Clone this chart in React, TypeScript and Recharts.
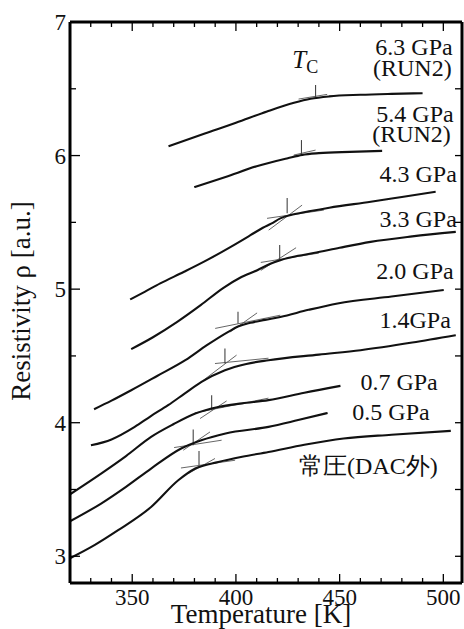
import React from "react";
import { LineChart, Line, XAxis, YAxis, ReferenceDot, Customized } from "recharts";

const FONT = "Liberation Serif, Times New Roman, serif";

// resistivity curves, [T (K), rho (a.u.)]
const run63 = [[367.5, 6.07], [385, 6.165], [400, 6.245], [415, 6.33], [428, 6.395], [436, 6.425], [445, 6.443], [460, 6.455], [475, 6.462], [490, 6.467]];
const run54 = [[379.9, 5.764], [395, 5.84], [410, 5.92], [425, 5.98], [432, 6.005], [440, 6.018], [455, 6.028], [470.5, 6.035]];
const p43 = [[349, 4.923], [356, 4.98], [363.5, 5.043], [375, 5.13], [386, 5.217], [397.3, 5.315], [407, 5.404], [413, 5.46], [417, 5.49], [421.4, 5.53], [428, 5.56], [436, 5.585], [445, 5.61], [465, 5.654], [480, 5.69], [496.3, 5.729]];
const p33 = [[349.5, 4.551], [360, 4.64], [371.7, 4.755], [383, 4.88], [394, 5.01], [402, 5.085], [410.3, 5.142], [416.6, 5.19], [421.4, 5.217], [430, 5.25], [437.4, 5.27], [450, 5.31], [464.9, 5.354], [485, 5.395], [506, 5.429]];
const p20 = [[331.6, 4.101], [340, 4.165], [349.5, 4.243], [362, 4.35], [375.6, 4.468], [386, 4.58], [396.3, 4.68], [401, 4.72], [407, 4.748], [414, 4.77], [421.4, 4.792], [435, 4.845], [449, 4.893], [475, 4.945], [500.2, 4.993]];
const p14 = [[330.1, 3.831], [340, 3.875], [351.2, 3.969], [359, 4.05], [367.3, 4.131], [375.4, 4.22], [383.4, 4.306], [394.7, 4.393], [405, 4.44], [415.7, 4.468], [440, 4.51], [460.1, 4.543], [485, 4.6], [506, 4.655]];
const p07 = [[320, 3.464], [335, 3.619], [347, 3.75], [359.1, 3.894], [370, 3.99], [380.4, 4.069], [391.5, 4.118], [403, 4.145], [415.7, 4.169], [433, 4.225], [450.4, 4.276]];
const p05 = [[320, 3.262], [335, 3.395], [347, 3.52], [359.1, 3.657], [373.6, 3.807], [383.3, 3.869], [395, 3.92], [415.7, 3.969], [430, 4.02], [444.2, 4.073]];
const p00 = [[320, 2.985], [332, 3.085], [343.2, 3.195], [359.1, 3.369], [372.2, 3.569], [380.4, 3.657], [391.5, 3.706], [403, 3.745], [415.7, 3.781], [433, 3.835], [451.9, 3.882], [475, 3.91], [503.6, 3.939]];

const curves = [run63, run54, p43, p33, p20, p14, p07, p05, p00];

// Tc markers: [T, rho bottom, rho top]
const tcTicks = [[438.4, 6.438, 6.528], [431.6, 6.011, 6.116], [424.7, 5.569, 5.682], [421.1, 5.217, 5.33], [401, 4.743, 4.83], [394.7, 4.443, 4.556], [388.3, 4.094, 4.206], [379.4, 3.831, 3.949], [382.2, 3.682, 3.789]];
// tangent segments: [T1, rho1, T2, rho2]
const tangents = [
  [430.2, 6.423, 444, 6.458],
  [427.9, 6.004, 438.4, 6.041],
  [415.8, 5.442, 431.9, 5.629], [415, 5.53, 442.4, 5.592],
  [412, 5.14, 429, 5.31], [412, 5.2, 440, 5.27],
  [397.3, 4.68, 410.2, 4.822], [390, 4.706, 421.4, 4.805],
  [384.3, 4.318, 400.3, 4.506], [389.9, 4.443, 415.7, 4.483],
  [382.7, 4.031, 395.5, 4.163], [380.2, 4.073, 415.7, 4.184],
  [374.6, 3.794, 387.5, 3.931], [370.2, 3.814, 393.1, 3.869],
  [377, 3.619, 389.9, 3.732], [373.5, 3.661, 399.6, 3.719],
];

const labelText = ["6.3 GPa", "(RUN2)", "5.4 GPa", "(RUN2)", "4.3 GPa", "3.3 GPa", "2.0 GPa", "1.4GPa", "0.7 GPa", "0.5 GPa", "常圧(DAC外)"];
const labelT = [504.5, 504.0, 505.0, 503.6, 506.5, 506.5, 505.0, 503.6, 497.3, 493.4, 497.3];
const labelR = [6.753, 6.592, 6.251, 6.101, 5.801, 5.464, 5.075, 4.708, 4.243, 4.019, 3.614];

const xTicks = [330, 340, 350, 360, 370, 380, 390, 400, 410, 420, 430, 440, 450, 460, 470, 480, 490, 500];
const yTicks = [3, 3.5, 4, 4.5, 5, 5.5, 6, 6.5, 7];
const rightTicks = [3, 3.5, 4, 4.5, 5, 5.5, 6, 6.5];

const toPts = (arr: number[][]) => arr.map(([t, r]) => ({ t, r }));

const BottomTick = ({ x, y, payload }: any) => {
  const major = payload.value % 50 === 0;
  return (
    <g>
      <line x1={x} y1={y} x2={x} y2={y - (major ? 9 : 5)} stroke="#000" strokeWidth={1.3} />
      {major && (
        <text x={x} y={y + 22} textAnchor="middle" fontSize={23} fontFamily={FONT} fill="#111">
          {payload.value}
        </text>
      )}
    </g>
  );
};

const TopTick = ({ x, y, payload }: any) => {
  const major = payload.value % 50 === 0;
  return <line x1={x} y1={y} x2={x} y2={y + (major ? 9 : 5)} stroke="#000" strokeWidth={1.3} />;
};

const LeftTick = ({ x, y, payload }: any) => {
  const major = Number.isInteger(payload.value);
  return (
    <g>
      <line x1={x} y1={y} x2={x + (major ? 10 : 6)} y2={y} stroke="#000" strokeWidth={1.3} />
      {major && (
        <text x={x - 4} y={y + 8} textAnchor="end" fontSize={23} fontFamily={FONT} fill="#111">
          {payload.value}
        </text>
      )}
    </g>
  );
};

const RightTick = ({ x, y }: any) => (
  <line x1={x} y1={y} x2={x - 7} y2={y} stroke="#000" strokeWidth={1.3} />
);

const Titles = () => (
  <g fontFamily={FONT} fill="#111">
    <text x={261} y={623} textAnchor="middle" fontSize={27}>
      Temperature [K]
    </text>
    <text x={30} y={301} textAnchor="middle" fontSize={27} transform="rotate(-90, 30, 301)">
      Resistivity ρ [a.u.]
    </text>
  </g>
);

const axisLine = { stroke: "#000", strokeWidth: 3 };

export default function App() {
  return (
    <div
      style={{ position: "absolute", left: 0, top: 0, width: 464, height: 629, background: "#fff", fontFamily: FONT }}
    >
      <LineChart width={464} height={629} margin={{ top: 21, right: 1, bottom: 45, left: 69 }}>
        <XAxis
          dataKey="t"
          type="number"
          domain={[320, 509]}
          ticks={xTicks}
          interval={0}
          height={1}
          tickSize={0}
          tickMargin={0}
          tickLine={false}
          tick={<BottomTick />}
          axisLine={axisLine}
          allowDataOverflow
        />
        <XAxis
          xAxisId="top"
          orientation="top"
          dataKey="t"
          type="number"
          domain={[320, 509]}
          ticks={xTicks}
          interval={0}
          height={1}
          tickSize={0}
          tickMargin={0}
          tickLine={false}
          tick={<TopTick />}
          axisLine={axisLine}
          allowDataOverflow
        />
        <YAxis
          type="number"
          domain={[2.8, 7]}
          ticks={yTicks}
          interval={0}
          width={1}
          tickSize={0}
          tickMargin={0}
          tickLine={false}
          tick={<LeftTick />}
          axisLine={axisLine}
          allowDataOverflow
        />
        <YAxis
          yAxisId="right"
          orientation="right"
          type="number"
          domain={[2.8, 7]}
          ticks={rightTicks}
          interval={0}
          width={1}
          tickSize={0}
          tickMargin={0}
          tickLine={false}
          tick={<RightTick />}
          axisLine={axisLine}
          allowDataOverflow
        />
        {tangents.map(([t1, r1, t2, r2], i) => (
          <Line
            key={`tan-${i}`}
            data={[{ t: t1, r: r1 }, { t: t2, r: r2 }]}
            dataKey="r"
            type="linear"
            stroke="#555"
            strokeWidth={0.9}
            dot={false}
            isAnimationActive={false}
          />
        ))}
        {tcTicks.map(([t, r1, r2], i) => (
          <Line
            key={`tc-${i}`}
            data={[{ t, r: r1 }, { t, r: r2 }]}
            dataKey="r"
            type="linear"
            stroke="#444"
            strokeWidth={1.1}
            dot={false}
            isAnimationActive={false}
          />
        ))}
        {curves.map((c, i) => (
          <Line
            key={`c-${i}`}
            data={toPts(c)}
            dataKey="r"
            type="monotone"
            stroke="#111"
            strokeWidth={2.1}
            dot={false}
            isAnimationActive={false}
          />
        ))}
        {labelText.map((s, i) => (
          <ReferenceDot
            key={`lab-${i}`}
            x={labelT[i]}
            y={labelR[i]}
            r={0}
            shape={(p: any) => (
              <text x={p.cx} y={p.cy} textAnchor="end" fontSize={24} fontFamily={FONT} fill="#111">
                {s}
              </text>
            )}
          />
        ))}
        <ReferenceDot
          x={427.2}
          y={6.655}
          r={0}
          shape={(p: any) => (
            <text x={p.cx} y={p.cy} fontFamily={FONT} fill="#111" fontSize={25}>
              <tspan fontStyle="italic">T</tspan>
              <tspan fontSize={18} dy={5}>C</tspan>
            </text>
          )}
        />
        <Customized component={Titles} />
      </LineChart>
    </div>
  );
}
